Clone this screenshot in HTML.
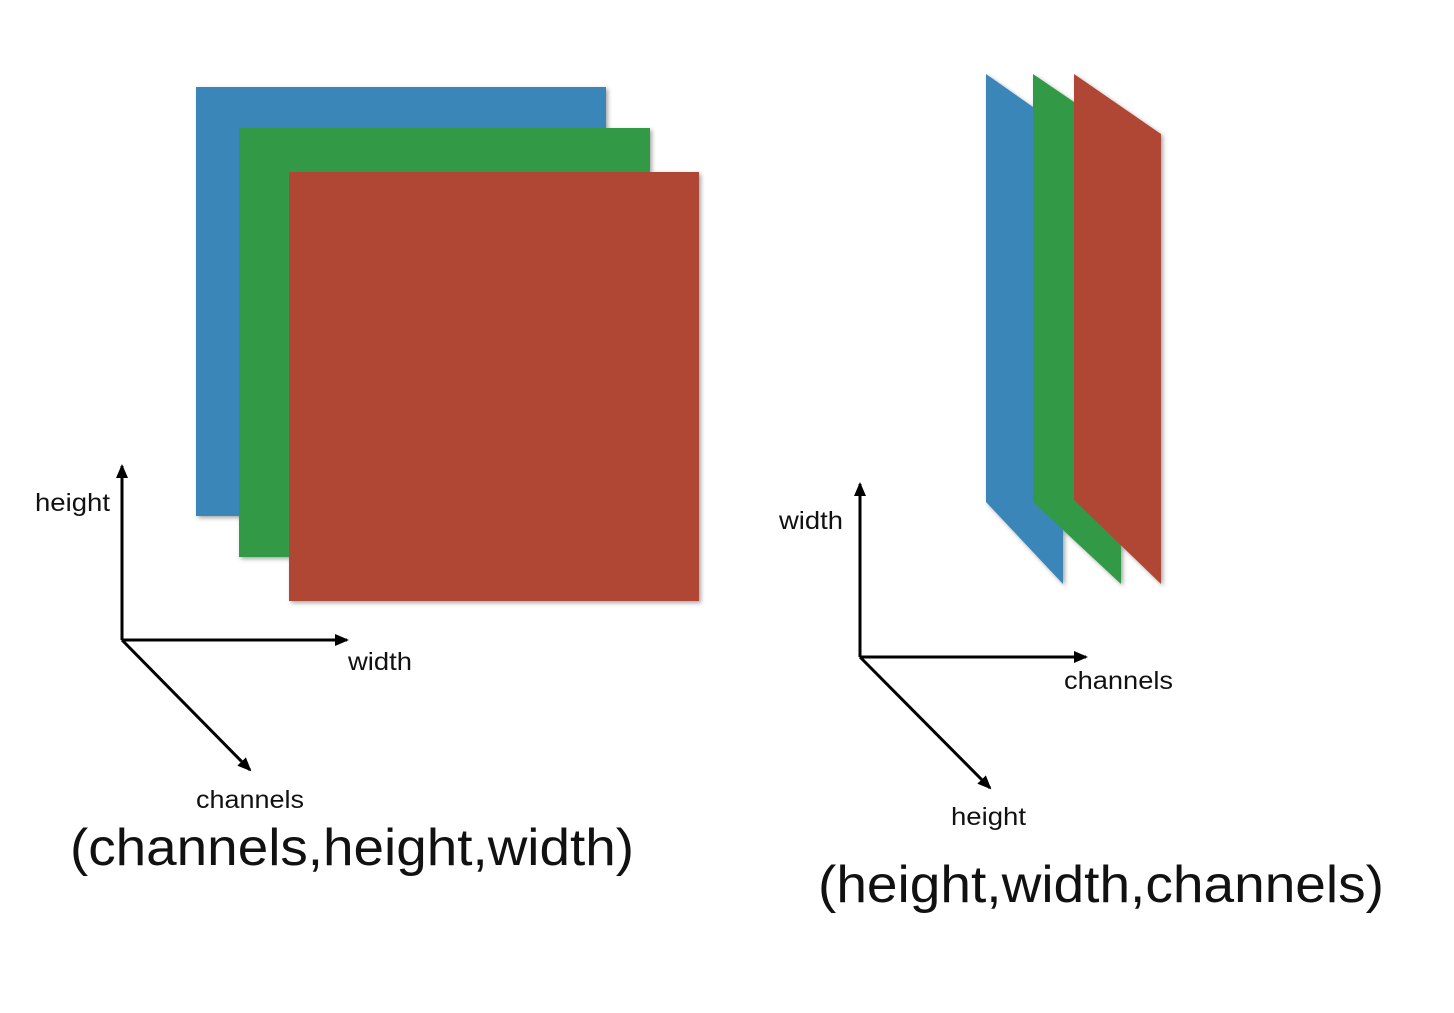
<!DOCTYPE html>
<html><head><meta charset="utf-8"><style>
body{margin:0;background:#fff}
svg text{font-family:"Liberation Sans",sans-serif;fill:#111}
</style></head><body>
<svg width="1454" height="1008" viewBox="0 0 1454 1008">
<defs>
<marker id="ar" markerWidth="14" markerHeight="12" refX="12" refY="6" orient="auto" markerUnits="userSpaceOnUse"><path d="M0,0 L14,6 L0,12 z" fill="#000"/></marker>
<filter id="sh" x="-10%" y="-10%" width="130%" height="130%"><feDropShadow dx="2" dy="2" stdDeviation="2" flood-opacity="0.35"/></filter>
</defs>
<g filter="url(#sh)">
<rect x="196" y="87" width="410" height="429" fill="#3a86b8"/>
<rect x="239" y="128" width="411" height="429" fill="#339a47"/>
<rect x="289" y="172" width="410" height="429" fill="#b04636"/>
</g>
<g stroke="#000" stroke-width="3" fill="none">
<line x1="122" y1="640" x2="122" y2="466" marker-end="url(#ar)"/>
<line x1="122" y1="640" x2="347" y2="640" marker-end="url(#ar)"/>
<line x1="122" y1="640" x2="250" y2="770" marker-end="url(#ar)"/>
</g>
<text x="35" y="511" font-size="25" textLength="75" lengthAdjust="spacingAndGlyphs">height</text>
<text x="348" y="670" font-size="25" textLength="64" lengthAdjust="spacingAndGlyphs">width</text>
<text x="196" y="808" font-size="25" textLength="108" lengthAdjust="spacingAndGlyphs">channels</text>
<text x="70" y="865" font-size="52" textLength="564" lengthAdjust="spacingAndGlyphs">(channels,height,width)</text>
<g filter="url(#sh)">
<polygon points="986,74 1063,128 1063,584 986,502" fill="#3a86b8"/>
<polygon points="1033,74 1121,134 1121,584 1033,502" fill="#339a47"/>
<polygon points="1074,74 1161,134 1161,584 1074,500" fill="#b04636"/>
</g>
<g stroke="#000" stroke-width="3" fill="none">
<line x1="860" y1="657" x2="860" y2="484" marker-end="url(#ar)"/>
<line x1="860" y1="657" x2="1086" y2="657" marker-end="url(#ar)"/>
<line x1="860" y1="657" x2="990" y2="788" marker-end="url(#ar)"/>
</g>
<text x="779" y="529" font-size="25" textLength="64" lengthAdjust="spacingAndGlyphs">width</text>
<text x="1064" y="689" font-size="25" textLength="109" lengthAdjust="spacingAndGlyphs">channels</text>
<text x="951" y="825" font-size="25" textLength="75" lengthAdjust="spacingAndGlyphs">height</text>
<text x="818" y="902" font-size="52" textLength="566" lengthAdjust="spacingAndGlyphs">(height,width,channels)</text>
</svg>
</body></html>
